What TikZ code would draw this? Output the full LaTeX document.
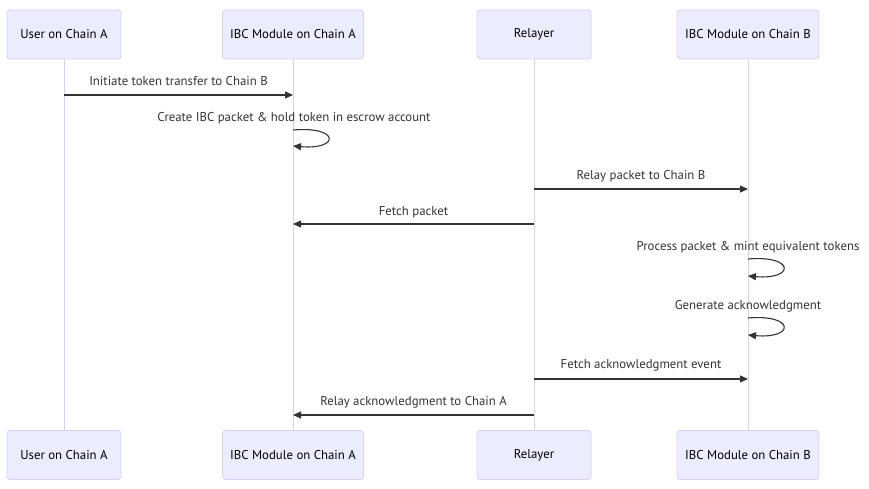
\documentclass[tikz,border=0pt]{standalone}
\usepackage{fontspec}
\setmainfont{PT Sans}
\usetikzlibrary{arrows.meta}
\definecolor{actfill}{HTML}{ECECFF}
\definecolor{actline}{HTML}{DACEF3}
\definecolor{txt}{HTML}{333333}
\tikzset{
  actor/.style={draw=actline, fill=actfill, rounded corners=3pt, minimum height=49pt, text=black, font=\fontsize{12.8}{14}\selectfont, inner sep=0pt, line width=0.8pt},
  life/.style={draw=actline, line width=1pt},
  msg/.style={draw=txt, line width=1.1pt, -{Triangle[length=8pt,width=7pt]}},
  lbl/.style={text=txt, font=\fontsize{12.8}{14}\selectfont, inner sep=0pt}
}
\begin{document}
\begin{tikzpicture}[x=1pt,y=-1pt]
\useasboundingbox (0,0) rectangle (869,489);
% top actors
\node[actor, minimum width=114pt] (a1) at (64,34.5) {User on Chain A};
\node[actor, minimum width=141pt] (a2) at (293,34.5) {IBC Module on Chain A};
\node[actor, minimum width=114pt] (a3) at (534,34.5) {Relayer};
\node[actor, minimum width=142pt] (a4) at (748,34.5) {IBC Module on Chain B};
% bottom actors
\node[actor, minimum width=114pt] (b1) at (64,455) {User on Chain A};
\node[actor, minimum width=141pt] (b2) at (293,455) {IBC Module on Chain A};
\node[actor, minimum width=114pt] (b3) at (534,455) {Relayer};
\node[actor, minimum width=142pt] (b4) at (748,455) {IBC Module on Chain B};
% lifelines
\draw[life] (a1) -- (b1);
\draw[life] (a2) -- (b2);
\draw[life] (a3) -- (b3);
\draw[life] (a4) -- (b4);
% message 1
\coordinate (m1s) at (64,95);
\coordinate (m1e) at (293,95);
\draw[msg] (m1s) -- (m1e);
\node[lbl] (t1) at (178.5,81) {Initiate token transfer to Chain B};
% message 2 (self)
\coordinate (m2s) at (293,130);
\coordinate (m2e) at (293,146);
\draw[msg] (m2s) .. controls (340,126) and (340,150) .. (m2e);
\node[lbl] (t2) at (294,118) {Create IBC packet \& hold token in escrow account};
% message 3
\coordinate (m3s) at (534,189);
\coordinate (m3e) at (748,189);
\draw[msg] (m3s) -- (m3e);
\node[lbl] (t3) at (641,176) {Relay packet to Chain B};
% message 4
\coordinate (m4s) at (534,224);
\coordinate (m4e) at (293,224);
\draw[msg] (m4s) -- (m4e);
\node[lbl] (t4) at (413.5,212) {Fetch packet};
% message 5 (self)
\coordinate (m5s) at (748,259);
\coordinate (m5e) at (748,276);
\draw[msg] (m5s) .. controls (795,255) and (795,280) .. (m5e);
\node[lbl] (t5) at (748,247) {Process packet \& mint equivalent tokens};
% message 6 (self)
\coordinate (m6s) at (748,318);
\coordinate (m6e) at (748,335);
\draw[msg] (m6s) .. controls (795,314) and (795,339) .. (m6e);
\node[lbl] (t6) at (748,306) {Generate acknowledgment};
% message 7
\coordinate (m7s) at (534,379);
\coordinate (m7e) at (748,379);
\draw[msg] (m7s) -- (m7e);
\node[lbl] (t7) at (641,365) {Fetch acknowledgment event};
% message 8
\coordinate (m8s) at (534,415);
\coordinate (m8e) at (293,415);
\draw[msg] (m8s) -- (m8e);
\node[lbl] (t8) at (413.5,402) {Relay acknowledgment to Chain A};
\end{tikzpicture}
\end{document}
